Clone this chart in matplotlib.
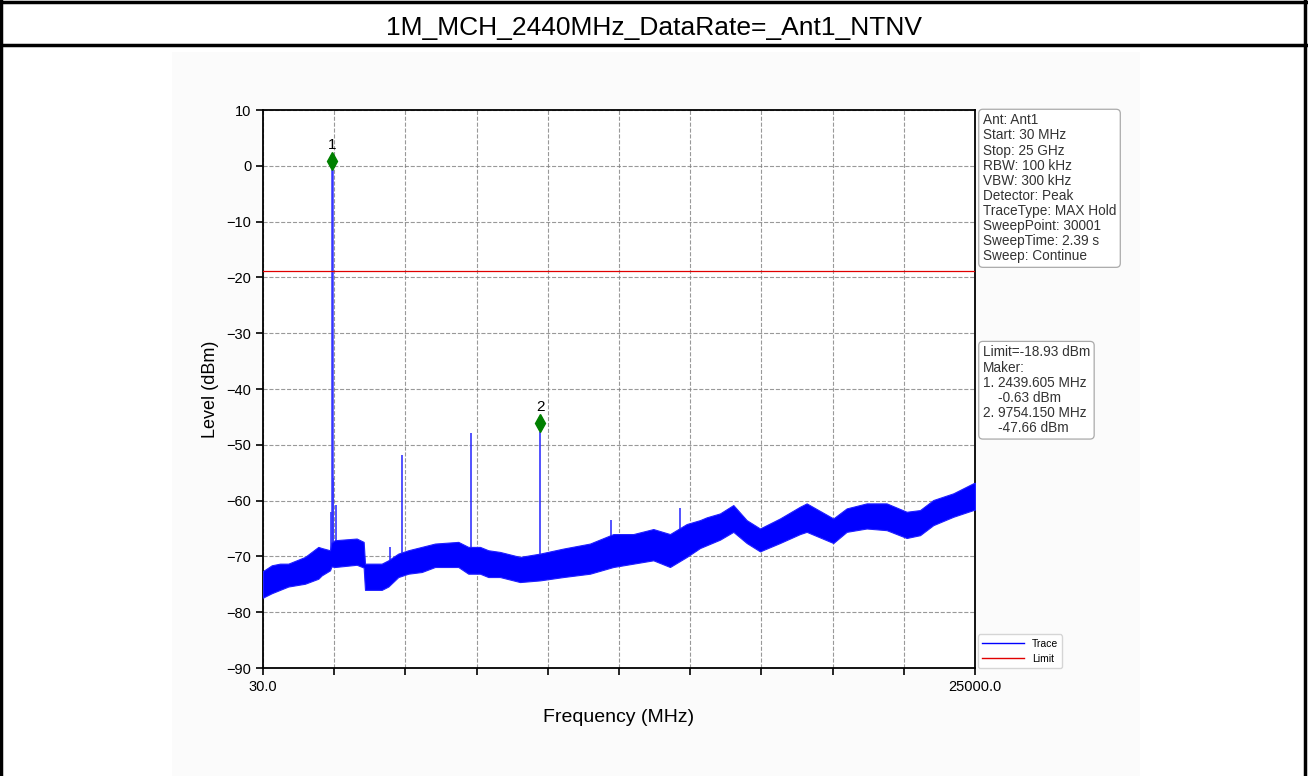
import numpy as np
from matplotlib import pyplot as plt
from matplotlib.lines import Line2D
from matplotlib.patches import Rectangle

plt.rcParams['font.family'] = ['Liberation Sans', 'DejaVu Sans']

# noise floor envelope (MHz, dBm)
env_freq = [30, 100, 335, 626, 918, 1503, 1970, 2088, 2380, 2430, 2555, 3316,
            3560, 3607, 3724, 4193, 4425, 4775, 5126, 5596, 6062, 6879, 7230,
            7640, 7931, 8341, 9043, 9744, 10562, 11498, 12316, 13017, 13718,
            14303, 14889, 15355, 15590, 16057, 16524, 16992, 17460, 18161,
            18862, 19096, 20031, 20499, 21200, 21902, 22603, 23071, 23537,
            24238, 24939, 25000]
env_upper = [-72.6, -72.4, -71.6, -71.3, -71.3, -70.1, -68.3, -68.5, -68.9,
             -67.5, -67.1, -66.8, -67.4, -71.3, -71.3, -71.3, -70.7, -69.5,
             -68.9, -68.3, -67.7, -67.4, -68.3, -68.3, -68.9, -69.2, -70.1,
             -69.5, -68.6, -67.7, -66.0, -66.0, -65.1, -66.0, -64.2, -63.5,
             -63.0, -62.3, -60.8, -63.5, -65.0, -63.2, -61.1, -60.5, -63.2,
             -61.4, -60.5, -60.5, -62.0, -61.7, -59.9, -58.7, -56.9, -56.8]
env_lower = [-77.4, -77.2, -76.6, -76.0, -75.4, -74.9, -74.0, -73.4, -72.5,
             -71.8, -71.9, -71.5, -72.0, -76.0, -76.0, -76.0, -75.4, -73.7,
             -73.1, -72.8, -71.9, -71.9, -73.1, -73.1, -73.7, -73.7, -74.6,
             -74.3, -73.7, -73.1, -71.9, -71.3, -70.7, -71.9, -70.1, -68.5,
             -68.0, -67.0, -65.6, -67.6, -69.1, -67.6, -66.0, -65.6, -67.6,
             -65.6, -65.0, -65.3, -66.7, -66.2, -64.4, -62.9, -61.7, -61.6]

# spurs above the floor
spur_freq = [2400, 2439.605, 2470, 2580, 4473, 4894, 7325, 9754.15, 12224, 14655]
spur_level = [-62.0, -0.63, -56.0, -60.8, -68.3, -51.8, -47.9, -47.66, -63.5, -61.4]

# markers
mk_freq = [2439.605, 9754.150]
mk_level = [-0.63, -47.66]
mk_names = ['1', '2']

limit = -18.93
x_start, x_stop = 30.0, 25000.0

info_text = ("Ant: Ant1\nStart: 30 MHz\nStop: 25 GHz\nRBW: 100 kHz\nVBW: 300 kHz\n"
             "Detector: Peak\nTraceType: MAX Hold\nSweepPoint: 30001\n"
             "SweepTime: 2.39 s\nSweep: Continue")
marker_text = ("Limit=-18.93 dBm\nMaker:\n1. 2439.605 MHz\n    -0.63 dBm\n"
               "2. 9754.150 MHz\n    -47.66 dBm")

fig = plt.figure(figsize=(13.08, 7.76), dpi=100)
fig.patch.set_facecolor('white')

# faint panel behind the plot
fig.add_artist(Rectangle((172 / 1308, 0), (1140 - 172) / 1308, 1 - 52 / 776,
                         transform=fig.transFigure, fc='#fbfbfb', ec='none', zorder=-5))
# outer frame and title band
for xs, ys in [([0.001, 0.001], [0, 0.999]), ([0.998, 0.998], [0, 0.999]),
               ([0, 1], [0.998, 0.998]), ([0, 1], [1 - 45 / 776, 1 - 45 / 776])]:
    fig.add_artist(Line2D(xs, ys, transform=fig.transFigure, color='black', lw=2.5))
fig.text(0.5, 1 - 28 / 776, "1M_MCH_2440MHz_DataRate=_Ant1_NTNV",
         ha='center', va='center', fontsize=19)

ax = fig.add_axes([263 / 1308, 1 - 668 / 776, 712 / 1308, 558 / 776])
ax.set_facecolor('white')

ax.fill_between(env_freq, env_lower, env_upper, color='#0000ff', lw=0.8,
                edgecolor='#2020ff', zorder=3)
for f, lv in zip(spur_freq, spur_level):
    lw = 1.8 if lv > -10 else 1.2
    base = np.interp(f, env_freq, env_lower)
    ax.vlines(f, base, lv, color='#3535ff', lw=lw, zorder=2)
ax.axhline(limit, color='#e00000', lw=0.9, zorder=4)

mk_offset = 1.5  # marker drawn slightly above the peak
for f, lv, name in zip(mk_freq, mk_level, mk_names):
    ax.plot(f, lv + mk_offset, marker='d', color='green', markersize=9, zorder=5)
    ax.text(f, lv + mk_offset + 1.6, name, ha='center', va='bottom', fontsize=11, zorder=5)

ax.set_xlim(x_start, x_stop)
ax.set_ylim(-90, 10)
xt = np.linspace(x_start, x_stop, 11)
ax.set_xticks(xt)
ax.set_xticklabels(['30.0'] + [''] * 9 + ['25000.0'])
ax.set_yticks(np.arange(-90, 11, 10))
ax.tick_params(labelsize=10.5, direction='out', length=5, width=1.2)
ax.grid(True, linestyle='--', color='gray', lw=0.8, alpha=0.8)
ax.set_axisbelow(True)
for s in ax.spines.values():
    s.set_linewidth(1.3)

ax.set_xlabel('Frequency (MHz)', fontsize=14, labelpad=11)
ax.set_ylabel('Level (dBm)', fontsize=13, labelpad=5)

box = dict(boxstyle='round,pad=0.3', fc='white', ec='#aaaaaa', lw=0.9)
ax.text(1.011, 0.994, info_text, transform=ax.transAxes, ha='left', va='top',
        fontsize=9.8, color='#333333', bbox=box, linespacing=1.1)
ax.text(1.011, 0.578, marker_text, transform=ax.transAxes, ha='left', va='top',
        fontsize=9.8, color='#333333', bbox=box, linespacing=1.1)

handles = [Line2D([], [], color='#0000ff', lw=1), Line2D([], [], color='#e00000', lw=1)]
ax.legend(handles, ['Trace', 'Limit'], loc='lower left', bbox_to_anchor=(1.004, 0.0),
          borderaxespad=0, fontsize=7.5, frameon=True, edgecolor='#cccccc', handlelength=4)

fig.savefig('out.png', dpi=100)
